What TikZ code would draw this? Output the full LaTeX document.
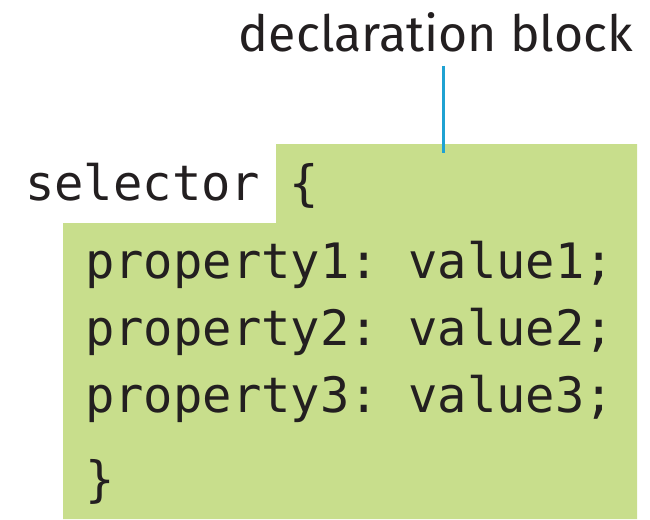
\documentclass[tikz,border=0pt]{standalone}
\usepackage{fontspec}
\setmonofont{DejaVu Sans Mono}
\setsansfont{Fira Sans}
\usetikzlibrary{positioning, calc}
\definecolor{declfill}{HTML}{C8DE8C}
\definecolor{leadline}{HTML}{1FA2D2}
\definecolor{codetext}{HTML}{231F20}
\tikzset{
  code/.style    = {inner sep=0pt, anchor=base west, text=codetext,
                    font=\fontsize{48.8}{48.8}\selectfont\ttfamily},
  lbl/.style     = {inner sep=0pt, anchor=base, text=codetext,
                    font=\fontsize{50}{50}\selectfont\sffamily},
  leader/.style  = {draw=leadline, line width=3pt},
  declbox/.style = {fill=declfill},
}
\begin{document}
\begin{tikzpicture}[x=1pt, y=-1pt]
\useasboundingbox (0,0) rectangle (650,519);
% green declaration area
\fill[declbox] (276,144) -- (637,144) -- (637,519) -- (63,519)
  -- (63,223) -- (276,223) -- cycle;
\node[lbl] (lbl) at (436,52) {declaration block};
\coordinate (tip) at (443,153);
\draw[leader, shorten <=13pt] (lbl.south -| tip) -- (tip);
\node[code] (sel) at (25,200) {selector \{};
\foreach \i/\y in {1/278, 2/345, 3/412}{
  \node[code] (prop\i) at (85,\y) {property\i: value\i;};
}
\node[code] (close) at (85,496) {\}};
\end{tikzpicture}
\end{document}
